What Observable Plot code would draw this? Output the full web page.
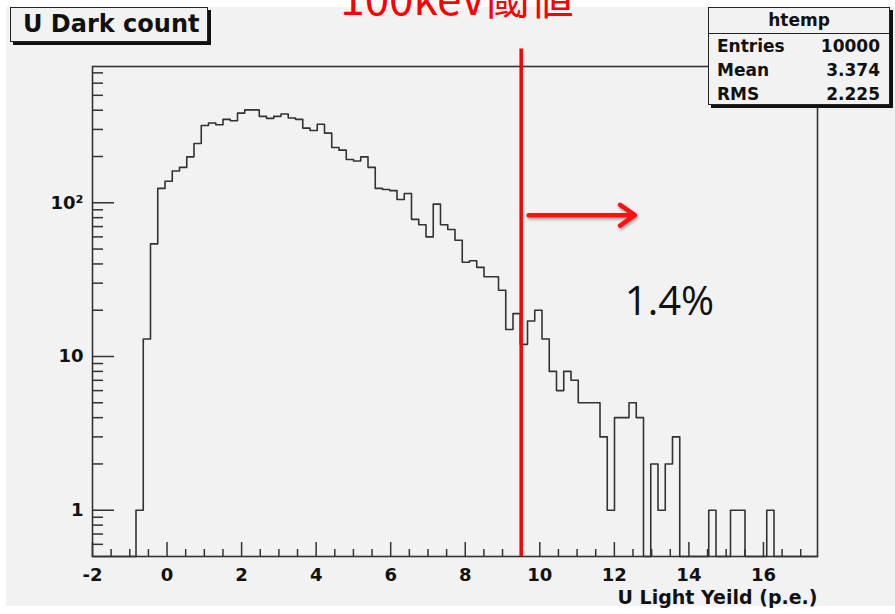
<!DOCTYPE html>
<html>
<head>
<meta charset="utf-8">
<script src="https://cdn.jsdelivr.net/npm/d3@7"></script>
<script src="https://cdn.jsdelivr.net/npm/@observablehq/plot@0.6"></script>
<style>
  html, body { margin: 0; padding: 0; background: #fff; }
  #page { position: relative; width: 895px; height: 614px; overflow: hidden; }
  #canvas { position: absolute; left: 6px; top: 7px; width: 889px; height: 599px; background: #f2f2f2; }
  #chart { position: absolute; left: 0; top: 0; }
  .box { position: absolute; box-sizing: border-box; background: #f2f2f2; border: 1.5px solid #222;
         box-shadow: 3px 3px 0 #111; font-family: "DejaVu Sans", sans-serif; font-weight: bold; color: #111; }
  #titlebox { left: 10px; top: 7px; width: 198px; height: 35px; font-size: 24px; line-height: 32px; padding-left: 12px; }
  #stats { left: 708px; top: 7px; width: 182px; height: 98px; font-size: 17px; }
  #stats .head { height: 25px; line-height: 24px; text-align: center; border-bottom: 1.5px solid #222; }
  #stats .row { height: 24px; line-height: 24px; display: flex; justify-content: space-between; padding: 0 9px 0 8px; }
  #headline { position: absolute; left: 0; top: 0; }
</style>
</head>
<body>
<div id="page">
  <div id="canvas"></div>
  <div id="chart"></div>
  <svg id="headline" width="895" height="60"></svg>
  <div id="titlebox" class="box"></div>
  <div id="stats" class="box"></div>
</div>
<script>
// Histogram "htemp": 100 bins over the U light yield range (p.e.)
const xMin = -2;
const xMax = 17.45;
const nBins = 100;
const counts = [
  0, 0, 0, 0, 0, 0, 1, 13, 54, 124,
  138, 161, 170, 199, 243, 318, 330, 322, 349, 342,
  383, 402, 402, 365, 354, 365, 378, 356, 349, 306,
  295, 324, 284, 229, 220, 191, 187, 199, 170, 124,
  122, 120, 105, 115, 78, 72, 60, 98, 72, 67,
  57, 41, 42, 38, 33, 33, 27, 15, 19, 12,
  17, 20, 13, 8, 6, 8, 7, 5, 5, 5,
  3, 1, 4, 4, 5, 4, 0, 2, 1, 2,
  3, 0, 0, 0, 0, 1, 0, 0, 1, 1,
  0, 0, 0, 1, 0, 0, 0, 0, 0, 0
];

// Log y range of the frame
const yMin = 0.5;
const yMax = 770;

// Axis ticks
const xMajorTicks = [-2, 0, 2, 4, 6, 8, 10, 12, 14, 16];
const xMinorTicks = d3.range(-1.5, 17.45, 0.5).filter(v => !xMajorTicks.includes(v));
const yMajorTicks = [1, 10, 100];
const yMajorLabels = ["1", "10", "10²"];
const yMinorTicks = [0.6, 0.7, 0.8, 0.9, 2, 3, 4, 5, 6, 7, 8, 9,
                     20, 30, 40, 50, 60, 70, 80, 90, 200, 300, 400, 500, 600, 700];

// Texts
const histTitle = "U Dark count";
const xTitle = "U Light Yeild (p.e.)";
const headline = "100keV閾値";
const statsName = "htemp";
const statsLabels = ["Entries", "Mean", "RMS"];
const statsValues = ["10000", "3.374", "2.225"];

// 100 keV threshold and its annotation
const threshold = 9.5;
const thresholdTop = 1000;
const arrowSpec = [{x1: 9.7, x2: 12.55, y: 83}];
const notePos = [{x: 13.48, y: 18.5}];

// Fraction of events at or above the threshold
const binWidth = (xMax - xMin) / nBins;
const total = d3.sum(counts);
const above = d3.sum(counts.filter((c, i) => xMin + (i + 0.5) * binWidth >= threshold));
const pctLabel = (100 * above / total).toFixed(1) + "%";

// Step outline of the histogram (empty bins drop to the frame bottom)
const outline = [];
counts.forEach((c, i) => {
  const v = c > 0 ? c : yMin;
  outline.push({x: xMin + i * binWidth, y: v});
  outline.push({x: xMin + (i + 1) * binWidth, y: v});
});

const W = 895, H = 614, mL = 92, mR = 78, mT = 66, mB = 58;
const innerW = W - mL - mR, innerH = H - mT - mB;
const ink = "#333";

const chart = Plot.plot({
  width: W,
  height: H,
  marginLeft: mL,
  marginRight: mR,
  marginTop: mT,
  marginBottom: mB,
  style: {background: "transparent", color: "#111", fontFamily: "DejaVu Sans, sans-serif",
          fontWeight: "bold", fontSize: "18px", overflow: "visible"},
  x: {domain: [xMin, xMax]},
  y: {type: "log", domain: [yMin, yMax]},
  marks: [
    // inward ticks
    Plot.ruleX(xMajorTicks, {x: d => d, stroke: ink, strokeWidth: 1.5, insetTop: innerH - 14}),
    Plot.ruleX(xMinorTicks, {x: d => d, stroke: ink, strokeWidth: 1.5, insetTop: innerH - 7}),
    Plot.ruleY(yMajorTicks, {y: d => d, stroke: ink, strokeWidth: 1.5, insetRight: innerW - 22}),
    Plot.ruleY(yMinorTicks, {y: d => d, stroke: ink, strokeWidth: 1.5, insetRight: innerW - 11}),
    // histogram
    Plot.line(outline, {x: "x", y: "y", stroke: ink, strokeWidth: 1.6}),
    Plot.frame({stroke: ink, strokeWidth: 1.6}),
    // tick labels
    Plot.axisX(xMajorTicks, {tickSize: 0, tickPadding: 12, label: null,
      tickFormat: d => String(d).replace("−", "-")}),
    Plot.axisY(yMajorTicks, {tickSize: 0, tickPadding: 9, label: null,
      tickFormat: d => yMajorLabels[yMajorTicks.indexOf(d)]}),
    Plot.text([xTitle], {frameAnchor: "bottom-right", dy: 47, textAnchor: "end",
      lineAnchor: "bottom", fontSize: 19, fontWeight: "bold"}),
    // threshold line, arrow and fraction above it
    Plot.ruleX([threshold], {x: d => d, y1: yMin, y2: thresholdTop, stroke: "#ff0000", strokeWidth: 3.5}),
    Plot.arrow(arrowSpec, {x1: "x1", x2: "x2", y1: "y", y2: "y", stroke: "#ff1010",
      strokeWidth: 4.5, headLength: 6, headAngle: 70}),
    Plot.text(notePos, {x: "x", y: "y", text: () => pctLabel, lineAnchor: "bottom",
      fontSize: 40, fontWeight: "normal", fontFamily: "Open Sans, sans-serif", fill: "#111"})
  ]
});
document.getElementById("chart").appendChild(chart);

const arrowG = chart.querySelector('g[aria-label="arrow"]');
if (arrowG) arrowG.style.filter = "drop-shadow(1px 2px 1.5px rgba(0,0,0,0.35))";

// Red headline above the frame
const hl = d3.select("#headline");
hl.append("text")
  .attr("x", 457).attr("y", 15)
  .attr("text-anchor", "middle")
  .attr("font-family", "Noto Sans CJK JP, sans-serif")
  .attr("font-size", 44)
  .attr("fill", "#ff0000")
  .text(headline);

// Title box
document.getElementById("titlebox").textContent = histTitle;

// Statistics box
const stats = d3.select("#stats");
stats.append("div").attr("class", "head").text(statsName);
statsLabels.forEach((lab, i) => {
  const r = stats.append("div").attr("class", "row");
  r.append("span").text(lab);
  r.append("span").text(statsValues[i]);
});
</script>
</body>
</html>
